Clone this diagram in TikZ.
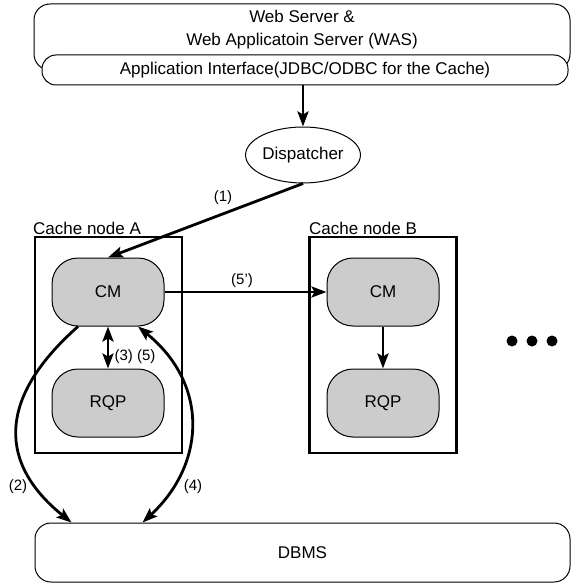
\documentclass[tikz,border=0pt]{standalone}
\usepackage{fontspec}
\setmainfont{Liberation Sans}
\usetikzlibrary{arrows.meta,shapes.geometric,calc}
\begin{document}
\begin{tikzpicture}[x=1pt,y=-1pt,
  >={Stealth[length=15pt,width=11pt,inset=3pt]},
  maintxt/.style={font=\fontsize{17}{23}\selectfont},
  lbl/.style={font=\fontsize{15}{18}\selectfont},
  thinbox/.style={draw,line width=1pt,inner sep=0pt,fill=white,maintxt},
  cachebox/.style={draw,line width=2.8pt,inner sep=0pt,minimum width=147pt,minimum height=216pt},
  module/.style={draw,line width=1pt,fill=black!20,rounded corners=26pt,inner sep=0pt,minimum width=112pt,minimum height=68pt,maintxt},
  arr/.style={line width=2.8pt,->},
  darr/.style={line width=2.8pt,<->},
  dot/.style={circle,fill=black,inner sep=0pt,minimum size=11pt}
]
\useasboundingbox (0,0) rectangle (571,583);

% top boxes
\node[thinbox,rounded corners=16pt,minimum width=536pt,minimum height=66pt] (was) at (302,37) {};
\node[maintxt,align=center,inner sep=0pt] (wastext) at (302,29.5) {Web Server \&\\Web Applicatoin Server (WAS)};
\node[thinbox,rounded corners=14pt,minimum width=526pt,minimum height=30pt] (app) at (305,70) {Application Interface(JDBC/ODBC for the Cache)};

% dispatcher
\node[draw,ellipse,line width=1pt,inner sep=0pt,minimum width=92pt,minimum height=56pt,maintxt] (disp) at (303,155) {Dispatcher};

% cache node A
\node[cachebox] (cacheA) at (108.5,345) {};
\node[maintxt,anchor=west,inner sep=0pt] (labA) at (33,228) {Cache node A};
\node[module] (cmA) at (108,292) {CM};
\node[module] (rqpA) at (108,403) {RQP};

% cache node B
\node[cachebox] (cacheB) at (383,345) {};
\node[maintxt,anchor=west,inner sep=0pt] (labB) at (309,228) {Cache node B};
\node[module] (cmB) at (383,292) {CM};
\node[module] (rqpB) at (383,403) {RQP};

% DBMS
\node[thinbox,rounded corners=16pt,minimum width=535pt,minimum height=59pt] (dbms) at (302.5,552.5) {DBMS};

% dots
\node[dot] (d1) at (512,341) {};
\node[dot] (d2) at (532,341) {};
\node[dot] (d3) at (552,341) {};

% connectors
\draw[arr] (app.south -| disp.north) -- (disp.north);
\draw[arr] (disp.south) -- (cmA.north);
\draw[arr] (cmA.east) -- (cmB.west);
\draw[darr] (cmA.south) -- (rqpA.north);
\draw[arr] (cmB.south) -- (rqpB.north);
\draw[arr] ($(cmA.south)+(-30,0)$) .. controls (-5,400) and (0,465) .. ($(dbms.north west)+(37,0)$);
\draw[darr] ($(dbms.north west)+(108,0)$) .. controls (205,465) and (210,385) .. ($(cmA.south)+(30,0)$);

% labels
\node[lbl] (l1) at (223,198) {(1)};
\node[lbl] (l5p) at (242,281) {(5')};
\node[lbl] (l35) at (135,357) {(3) (5)};
\node[lbl] (l2) at (18,487) {(2)};
\node[lbl] (l4) at (193,487) {(4)};
\end{tikzpicture}
\end{document}
